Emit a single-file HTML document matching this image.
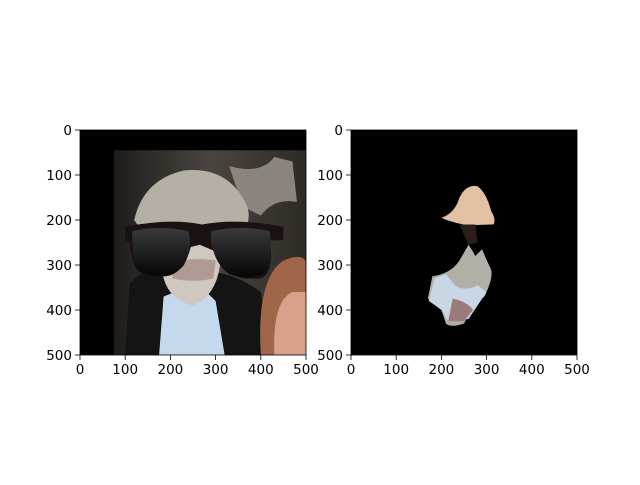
<!DOCTYPE html>
<html><head><meta charset="utf-8"><style>
html,body{margin:0;padding:0;background:#fff;}
svg text{font-family:"DejaVu Sans","Liberation Sans",sans-serif;font-size:13.5px;fill:#000;}
</style></head><body>
<svg id="fig" width="640" height="480" viewBox="0 0 640 480" xmlns="http://www.w3.org/2000/svg">
<defs>
<linearGradient id="lens" x1="0" y1="0" x2="0" y2="1"><stop offset="0" stop-color="#3a3a3c"/><stop offset="1" stop-color="#050505"/></linearGradient>
<linearGradient id="bg" x1="0" y1="0" x2="1" y2="0"><stop offset="0" stop-color="#1e1c1a"/><stop offset="0.5" stop-color="#4a4540"/><stop offset="1" stop-color="#2e2a26"/></linearGradient>
</defs>
<svg x="80" y="130" width="226" height="225" viewBox="0 0 500 500" preserveAspectRatio="none">
<rect width="500" height="500" fill="#000"/>
<rect x="75" y="45" width="425" height="455" fill="url(#bg)"/>
<path d="M330 80 Q400 100 430 60 L470 70 L480 160 Q430 150 400 190 L360 170Z" fill="#8a857e"/>
<path d="M120 200 Q140 110 230 90 Q330 80 370 170 Q380 200 360 230 L140 230Z" fill="#b5b0a6"/>
<path d="M100 500 L110 340 Q160 290 230 300 L320 320 Q360 330 400 360 L420 500Z" fill="#141414"/>
<path d="M175 500 L185 370 Q230 350 280 360 L300 380 L320 500Z" fill="#c4d8ee"/>
<path d="M175 270 Q180 240 270 250 Q320 260 310 300 Q300 370 250 390 Q200 380 185 330Z" fill="#cfc8c0"/>
<path d="M200 300 Q240 280 300 290 L295 330 Q250 340 205 330Z" fill="#b09a94"/>
<path d="M400 500 Q390 330 450 290 Q500 270 500 300 L500 500Z" fill="#a0664a"/>
<path d="M430 500 Q425 380 470 360 L500 360 L500 500Z" fill="#d9a08a"/>
<path d="M100 215 Q200 195 270 210 Q350 195 450 215 L450 245 L420 245 Q430 320 400 330 L360 330 Q320 320 300 270 L265 255 L245 260 Q230 320 190 325 L150 325 Q115 320 110 250 L100 245Z" fill="#1a1210"/>
<path d="M115 225 Q175 210 240 225 Q250 260 230 300 Q210 325 170 325 Q120 320 118 290Z" fill="url(#lens)"/>
<path d="M290 225 Q360 210 420 225 Q428 300 405 320 Q370 335 330 320 Q300 300 290 250Z" fill="url(#lens)"/>
</svg>
<svg x="351" y="130" width="226" height="225" viewBox="0 0 500 500" preserveAspectRatio="none">
<rect width="500" height="500" fill="#000"/>
<path d="M200 195 Q230 185 240 150 Q255 120 280 125 Q300 140 310 180 Q322 200 315 210 Q300 210 260 212 Q220 205 200 195Z" fill="#e2c0a3"/>
<path d="M240 210 L275 210 L280 250 L260 255Z" fill="#2a1e18"/>
<path d="M260 255 Q270 270 275 280 L290 265 Q300 290 310 310 Q315 330 295 370 Q270 390 250 430 Q220 440 210 430 L200 400 Q180 380 170 375 L180 325 Q220 320 240 290 Z" fill="#b2b0a6"/>
<path d="M185 330 L210 320 L230 345 Q250 360 280 345 L300 360 Q280 390 260 420 L215 425 L200 400 Q180 385 172 380Z" fill="#c8d6e6"/>
<path d="M225 375 Q255 380 270 400 L250 425 L215 425Z" fill="#9a7a7a"/>
</svg>
<g id="axes"></g>
</svg>
<script>
const xTicks=[0,100,200,300,400,500];
const yTicks=[0,100,200,300,400,500];
const xLabels=["0","100","200","300","400","500"];
const yLabels=["0","100","200","300","400","500"];
const ns="http://www.w3.org/2000/svg";
const g=document.getElementById('axes');
function mk(t,a){const e=document.createElementNS(ns,t);for(const k in a)e.setAttribute(k,a[k]);g.appendChild(e);return e;}
[[80,'left'],[351,'right']].forEach(([x0,side])=>{
  const y0=130,w=226,h=225;
  const sx=v=>x0+v/500*w, sy=v=>y0+v/500*h;
  const fr=mk('rect',{x:x0,y:y0,width:w,height:h,fill:'none',stroke:'#000','stroke-width':0.8});
  
  
  xTicks.forEach((v,i)=>{
    const t=mk('line',{x1:sx(v),x2:sx(v),y1:y0+h,y2:y0+h+5,stroke:'#000','stroke-width':0.8});
    
    
    const l=mk('text',{x:sx(v),y:y0+h+19,'text-anchor':'middle'});l.textContent=xLabels[i];
    
    
  });
  yTicks.forEach((v,i)=>{
    const t=mk('line',{x1:x0-5,x2:x0,y1:sy(v),y2:sy(v),stroke:'#000','stroke-width':0.8});
    
    
    const l=mk('text',{x:x0-8,y:sy(v)+5,'text-anchor':'end'});l.textContent=yLabels[i];
    
    
  });
});
</script>
</body></html>
